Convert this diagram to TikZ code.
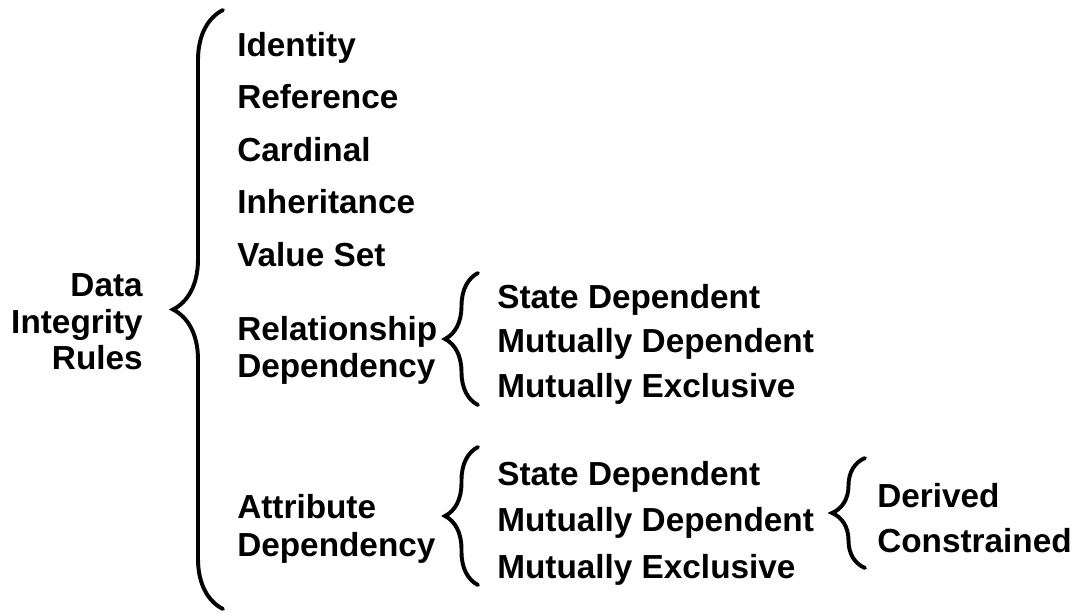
\documentclass[tikz,border=0pt]{standalone}
\usepackage{fontspec}
\setmainfont{Liberation Sans}
\usetikzlibrary{decorations.pathreplacing}

\begin{document}
\begin{tikzpicture}[x=0.025cm,y=-0.025cm,
  every node/.style={inner sep=0pt,font=\fontsize{23.7}{28}\selectfont\bfseries},
  item/.style={anchor=base west},
  curly/.style={decorate,decoration={brace,amplitude=#1},line width=2.8pt,line cap=round}]
  \useasboundingbox (0,0) rectangle (1076,612);

  \node (data) at (143,296) [anchor=base east] {Data};
  \node (integrity) at (143,333) [anchor=base east] {Integrity};
  \node (rules) at (143,369) [anchor=base east] {Rules};

  \coordinate (mainbot) at (223,609);
  \coordinate (maintop) at (223,10);
  \draw[curly=1.25cm] (mainbot) -- (maintop);

  \node (identity) at (237,56) [item] {Identity};
  \node (reference) at (237,108.5) [item] {Reference};
  \node (cardinal) at (237,161) [item] {Cardinal};
  \node (inheritance) at (237,213.5) [item] {Inheritance};
  \node (valueset) at (237,266) [item] {Value Set};
  \node (relship) at (237,340.5) [item] {Relationship};
  \node (reldep) at (237,377.5) [item] {Dependency};
  \node (attr) at (237,518.5) [item] {Attribute};
  \node (attrdep) at (237,556) [item] {Dependency};

  \coordinate (relbot) at (478,405);
  \coordinate (reltop) at (478,273);
  \draw[curly=0.825cm] (relbot) -- (reltop);
  \node (rstate) at (497,308.5) [item] {State Dependent};
  \node (rmutdep) at (497,352.5) [item] {Mutually Dependent};
  \node (rmutexc) at (497,397.5) [item] {Mutually Exclusive};

  \coordinate (attrbot) at (478,585);
  \coordinate (attrtop) at (478,447);
  \draw[curly=0.825cm] (attrbot) -- (attrtop);
  \node (astate) at (497,485.5) [item] {State Dependent};
  \node (amutdep) at (497,531.5) [item] {Mutually Dependent};
  \node (amutexc) at (497,578.5) [item] {Mutually Exclusive};

  \coordinate (derbot) at (865,568);
  \coordinate (dertop) at (865,458);
  \draw[curly=0.825cm] (derbot) -- (dertop);
  \node (derived) at (877,507) [item] {Derived};
  \node (constrained) at (877,552.5) [item] {Constrained};
\end{tikzpicture}
\end{document}
